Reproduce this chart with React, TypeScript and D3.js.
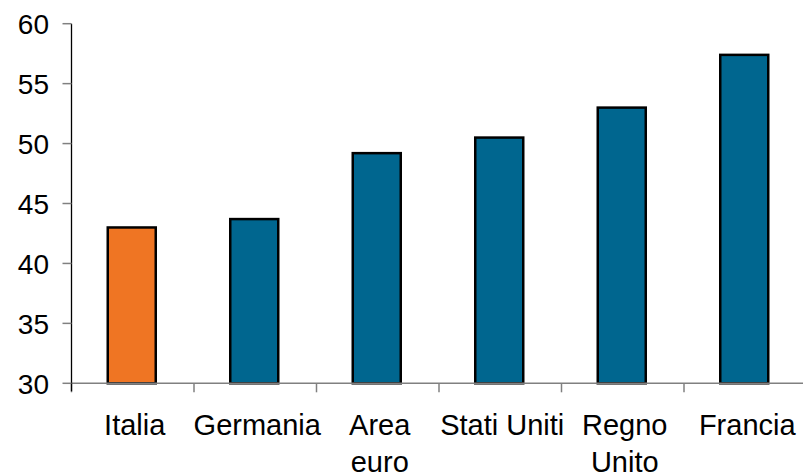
import React from "react";
import * as d3 from "d3";

const categories: string[][] = [
  ["Italia"],
  ["Germania"],
  ["Area", "euro"],
  ["Stati Uniti"],
  ["Regno", "Unito"],
  ["Francia"],
];
const values: number[] = [43.0, 43.7, 49.2, 50.5, 53.0, 57.4];
const barColors: string[] = ["#EF7523", "#00668F", "#00668F", "#00668F", "#00668F", "#00668F"];
const yTicks: number[] = [30, 35, 40, 45, 50, 55, 60];

const W = 803;
const H = 474;
const left = 71.5;
const right = 806.5;
const top = 23.7;
const bottom = 383.3;

export default function App() {
  const x = d3
    .scaleBand<number>()
    .domain(categories.map((_, i) => i))
    .range([left, right])
    .paddingInner(0)
    .paddingOuter(0);
  const y = d3.scaleLinear().domain([30, 60]).range([bottom, top]);
  const bw = 48;
  const font = "Liberation Sans, Arial, sans-serif";
  const boundaries = d3.range(categories.length + 1).map((i) => left + i * x.step());

  return (
    <svg
      width={W}
      height={H}
      style={{ position: "absolute", left: 0, top: 0, background: "#fff" }}
      fontFamily={font}
    >
      {/* bars */}
      {values.map((v, i) => {
        const cx = (x(i) as number) + x.bandwidth() / 2 - 1;
        return (
          <rect
            key={i}
            x={cx - bw / 2}
            y={y(v)}
            width={bw}
            height={y(30) - y(v)}
            fill={barColors[i]}
            stroke="#000"
            strokeWidth={2.5}
          />
        );
      })}
      {/* x axis */}
      <line x1={left} x2={W} y1={bottom} y2={bottom} stroke="#808080" strokeWidth={1.5} />
      {boundaries.map((bx, i) => (
        <line key={i} x1={bx} x2={bx} y1={bottom} y2={bottom + 9} stroke="#808080" strokeWidth={1.5} />
      ))}
      {/* y axis */}
      <line x1={left} x2={left} y1={top} y2={bottom + 8} stroke="#000" strokeWidth={1.3} />
      {yTicks.map((t) => (
        <g key={t}>
          <line x1={left - 9} x2={left} y1={y(t)} y2={y(t)} stroke="#808080" strokeWidth={1.5} />
          <text x={49} y={y(t) + 10.5} textAnchor="end" fontSize={28} fill="#000">
            {t}
          </text>
        </g>
      ))}
      {/* category labels */}
      {categories.map((lines, i) => {
        const cx = (x(i) as number) + x.bandwidth() / 2 + 2;
        return (
          <text key={i} textAnchor="middle" fontSize={29} fill="#000">
            {lines.map((ln, j) => (
              <tspan key={j} x={cx} y={435 + j * 37}>
                {ln}
              </tspan>
            ))}
          </text>
        );
      })}
    </svg>
  );
}
